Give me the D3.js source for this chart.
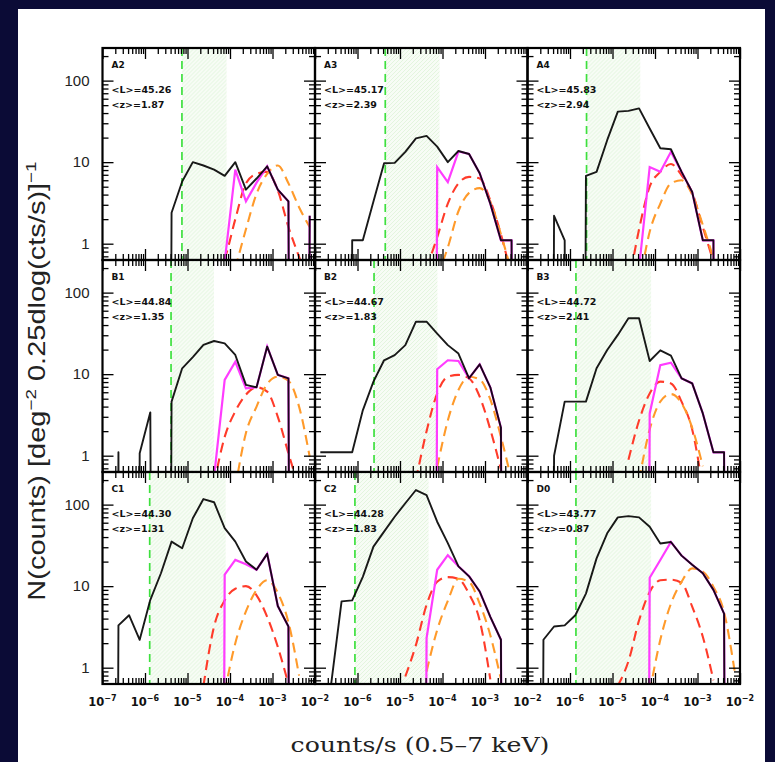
<!DOCTYPE html>
<html>
<head>
<meta charset="utf-8">
<script src="https://cdn.jsdelivr.net/npm/d3@7"></script>
<style>
  body { margin: 0; background: #0b0b36; }
  svg { display: block; }
</style>
</head>
<body>
<svg id="chart" width="775" height="762"></svg>
<script>
// panels, left to right then top to bottom
var panelNames = ["A2", "A3", "A4", "B1", "B2", "B3", "C1", "C2", "D0"];
var meanL = ["45.26", "45.17", "45.83", "44.84", "44.67", "44.72", "44.30", "44.28", "43.77"];
var meanZ = ["1.87", "2.39", "2.94", "1.35", "1.83", "2.41", "1.31", "1.83", "0.87"];

// green dashed flux limit and end of the shaded band (counts/s)
var fluxLimit = [7.4e-6, 4.5e-6, 2.45e-6, 4.1e-6, 2.45e-6, 1.38e-6, 1.29e-6, 8.7e-7, 1.38e-6];
var shadeEnd  = [8.3e-5, 8.5e-5, 4.5e-5, 4.2e-5, 7.6e-5, 8.1e-5, 7.9e-5, 4.7e-5, 8.1e-5];

// bin centres, log10(counts/s)
var binLogFlux = [-6.875, -6.625, -6.375, -6.125, -5.875, -5.625, -5.375, -5.125, -4.875, -4.625,
                  -4.375, -4.125, -3.875, -3.625, -3.375, -3.125, -2.875, -2.625, -2.375, -2.125];

// black histogram (0 = empty bin)
var blackCounts = [
  [0, 0, 0, 0, 0, 0, 2.4, 5.8, 10, 9.1, 8.1, 6.8, 10, 4.6, 6.3, 8.9, 4.6, 3.3, 0, 2.2],
  [0, 0, 0, 1.1, 1.1, 3.3, 9.7, 9.8, 13.4, 19.6, 21, 15.5, 10, 13.7, 12.6, 7.3, 3.1, 1.1, 1.1, 0],
  [0, 0, 2.2, 1.1, 0, 6.8, 7.6, 18.6, 41.6, 42.5, 45.7, 25.9, 14.8, 14.4, 7.6, 4.3, 1.1, 1.1, 0, 0],
  [0, 1.1, 0, 1.07, 3.4, 0, 4.6, 11.8, 16.2, 22.8, 25.5, 23.8, 17.2, 7.4, 6.9, 21.8, 9.8, 8.9, 0, 0],
  [1.1, 1.1, 1.1, 1.1, 3.6, 8.1, 14.8, 17.1, 22.7, 44, 44, 31.5, 22.7, 17.9, 8.9, 13.2, 6.9, 2.2, 0, 0],
  [0, 0, 1.0, 4.6, 4.6, 4.6, 11.8, 19.8, 30.3, 48.5, 48.5, 14.5, 19.6, 16.9, 8.9, 7.7, 3.3, 1.1, 1.1, 0],
  [0, 3.3, 4.4, 2.2, 6.8, 14.4, 35.2, 29.2, 68, 117, 107, 51.5, 35.2, 20.1, 15.9, 24.9, 5.7, 3.2, 0, 0],
  [0, 0.6, 6.5, 6.7, 13, 30.5, 46.6, 71, 104, 151, 131, 61.7, 33.7, 17.5, 13.2, 8.6, 4.2, 2.2, 0, 0],
  [0, 2.2, 3.2, 3.3, 4.4, 8.1, 21.9, 44.5, 69.7, 72.3, 69.7, 53.4, 33.4, 34.8, 23.7, 18.3, 14.4, 9.0, 4.6, 0]
];

// magenta histogram (null = not drawn)
var magentaCounts = [
  [null, null, null, null, null, null, null, null, null, null, null, 0.6, 8.1, 3.3, 5.6, 8.9, 4.6, 3.3, 0, 2.2],
  [null, null, null, null, null, null, null, null, null, null, 0, 8.7, 5.7, 13.5, 12.6, 7.3, 3.1, 1.1, 1.1, 0],
  [null, null, null, null, null, null, null, null, null, null, 0.5, 8.7, 7.6, 13.4, 7.6, 4.3, 1.1, 1.1, 0, null],
  [null, null, null, null, null, null, null, null, null, null, 0.55, 8.5, 14.2, 6.7, 6.9, 21.8, 9.8, 8.9, 0, null],
  [null, null, null, null, null, null, null, null, null, null, 0, 11.5, 14.8, 14.5, 8.9, 13.2, 6.9, 2.2, 0, null],
  [null, null, null, null, null, null, null, null, null, null, 0, 3.3, 12.9, 13.8, 8.9, 7.7, 3.3, 1.1, 1.1, 0],
  [null, null, null, null, null, null, null, null, null, null, 0, 13.9, 21, 18.6, 15.9, 24.9, 5.7, 3.2, 0, null],
  [null, null, null, null, null, null, null, null, null, 0, 2.3, 15.9, 24, 17.5, 13.2, 8.6, 4.2, 2.2, 0, null],
  [null, null, null, null, null, null, null, null, null, null, 0, 12.7, 20.9, 34.8, 23.7, 18.3, 14.4, 9.0, 4.6, 0]
];

// red dashed model
var redModel = [
  [null, null, null, null, null, null, null, null, null, null, 0.45, 0.66, 2.0, 5.5, 7.2, 7.6, 4.5, 1.6, 0.69, 0.3],
  [null, null, null, null, null, null, null, null, null, null, 0.5, 1.2, 3.1, 5.5, 6.6, 6.3, 3.4, 1.3, 0.4, null],
  [null, null, null, null, null, null, null, null, null, 0.3, 1.5, 5.0, 7.6, 9.5, 6.9, 4.2, 1.6, 0.6, null, null],
  [null, null, null, null, null, null, null, null, null, null, 0.45, 1.7, 3.5, 5.6, 6.9, 6.1, 3.0, 1.07, 0.4, null],
  [null, null, null, null, null, null, null, null, null, 0.5, 2.0, 5.8, 9.3, 9.8, 8.9, 5.3, 2.1, 0.68, null, null],
  [null, null, null, null, null, null, null, null, null, 0.89, 2.7, 5.8, 8.1, 7.7, 4.6, 2.1, 0.4, null, null, null],
  [null, null, null, null, null, null, null, null, null, 0.6, 3.2, 6.7, 9.3, 10, 7.7, 4.2, 1.8, 0.63, null, null],
  [null, null, null, null, null, null, null, null, 0.78, 1.9, 5.9, 11.3, 12.9, 12.3, 8.0, 3.8, 0.72, null, null, null],
  [null, null, null, null, null, null, null, null, 0.6, 1.2, 3.8, 8.5, 11.8, 12.0, 11.0, 5.6, 2.4, 0.7, null, null]
];

// orange dashed model
var orangeModel = [
  [null, null, null, null, null, null, null, null, null, null, null, null, 0.5, 1.5, 4.1, 7.2, 9.1, 5.5, 2.8, 1.6],
  [null, null, null, null, null, null, null, null, null, null, null, 0.4, 0.9, 2.5, 4.2, 4.8, 3.3, 1.3, 0.45, null],
  [null, null, null, null, null, null, null, null, null, null, 0.3, 1.4, 3.1, 5.5, 6.0, 4.0, 1.7, 0.66, null, null],
  [null, null, null, null, null, null, null, null, null, null, null, null, 0.4, 1.9, 4.0, 7.6, 9.3, 8.3, 4.0, 0.97],
  [null, null, null, null, null, null, null, null, null, null, null, 0.72, 2.7, 6.4, 9.3, 8.6, 4.9, 1.7, 0.5, null],
  [null, null, null, null, null, null, null, null, null, null, 0.5, 2.1, 4.6, 5.7, 4.4, 2.2, 0.74, null, null, null],
  [null, null, null, null, null, null, null, null, null, null, null, 0.5, 2.0, 4.9, 9.0, 11.8, 8.3, 3.6, 0.8, null],
  [null, null, null, null, null, null, null, null, null, null, 0.9, 2.9, 6.6, 12.3, 11.3, 6.1, 2.5, 0.72, null, null],
  [null, null, null, null, null, null, null, null, null, null, null, 0.5, 2.2, 6.1, 11.3, 16.5, 15.1, 9.8, 4.8, 0.9]
];

var xTickExp = [-7, -6, -5, -4, -3, -2];
var yTickValues = [1, 10, 100];

// layout
var gridLeft = 102.5, gridTop = 48, panelW = 212.5, panelH = 212;

var svg = d3.select("#chart");

svg.append("rect")
    .attr("x", 18).attr("y", 9)
    .attr("width", 747).attr("height", 753)
    .attr("fill", "#fff");

var defs = svg.append("defs");
var hatch = defs.append("pattern")
    .attr("id", "hatch")
    .attr("patternUnits", "userSpaceOnUse")
    .attr("width", 4).attr("height", 4);
hatch.append("rect").attr("width", 4).attr("height", 4).attr("fill", "#f7fcf5");
hatch.append("path")
    .attr("d", "M0,4 L4,0 M-1,1 L1,-1 M3,5 L5,3")
    .attr("stroke", "#e3f5de")
    .attr("stroke-width", 1);

var x = d3.scaleLog().domain([1e-7, 1e-2]).range([0, panelW]);
var y = d3.scaleLog().domain([Math.pow(10, -0.2), Math.pow(10, 2.4)]).range([panelH, 0]);

// empty bins are pushed far below the axis so the histogram drops straight down
function yPos(v) {
    return v > 0 ? y(v) : y(1e-30);
}

var histLine = d3.line()
    .defined(function(d) { return d.v !== null; })
    .x(function(d) { return x(d.f); })
    .y(function(d) { return yPos(d.v); });

var modelLine = d3.line()
    .defined(function(d) { return d.v !== null; })
    .curve(d3.curveMonotoneX)
    .x(function(d) { return x(d.f); })
    .y(function(d) { return y(d.v); });

function toPoints(values) {
    return values.map(function(v, i) {
        return {f: Math.pow(10, binLogFlux[i]), v: v};
    });
}

var majorX = xTickExp.map(function(e) { return Math.pow(10, e); });
var minorX = x.ticks().filter(function(t) { return majorX.indexOf(t) < 0; });
var minorY = y.ticks().filter(function(t) { return yTickValues.indexOf(t) < 0; });

function drawAxis(g, axis, transform) {
    var a = g.append("g")
        .attr("transform", transform)
        .call(axis);
    a.select(".domain").remove();
    a.selectAll("line").attr("stroke", "#000").attr("stroke-width", 1.3);
}

panelNames.forEach(function(name, p) {
    var col = p % 3, row = Math.floor(p / 3);
    var g = svg.append("g")
        .attr("transform", "translate(" + (gridLeft + col * panelW) + "," + (gridTop + row * panelH) + ")");

    defs.append("clipPath").attr("id", "clip" + p)
        .append("rect").attr("width", panelW).attr("height", panelH);

    var inner = g.append("g").attr("clip-path", "url(#clip" + p + ")");

    // shaded band
    inner.append("rect")
        .attr("x", x(fluxLimit[p]))
        .attr("y", 0)
        .attr("width", x(shadeEnd[p]) - x(fluxLimit[p]))
        .attr("height", panelH)
        .attr("fill", "url(#hatch)");

    // flux limit
    inner.append("line")
        .attr("x1", x(fluxLimit[p])).attr("x2", x(fluxLimit[p]))
        .attr("y1", 0).attr("y2", panelH)
        .attr("stroke", "#3ee03e")
        .attr("stroke-width", 1.7)
        .attr("stroke-dasharray", "8,5");

    inner.append("path")
        .attr("d", modelLine(toPoints(redModel[p])))
        .attr("fill", "none")
        .attr("stroke", "#ff3b2a")
        .attr("stroke-width", 2.1)
        .attr("stroke-dasharray", "10,6");

    inner.append("path")
        .attr("d", modelLine(toPoints(orangeModel[p])))
        .attr("fill", "none")
        .attr("stroke", "#ff9a2a")
        .attr("stroke-width", 2.1)
        .attr("stroke-dasharray", "10,6");

    inner.append("path")
        .attr("d", histLine(toPoints(magentaCounts[p])))
        .attr("fill", "none")
        .attr("stroke", "#ff3cff")
        .attr("stroke-width", 2.2);

    inner.append("path")
        .attr("d", histLine(toPoints(blackCounts[p])))
        .attr("fill", "none")
        .attr("stroke", "#000")
        .attr("stroke-opacity", 0.9)
        .attr("stroke-width", 1.9)
        .attr("stroke-linejoin", "round");

    // inward ticks on all four sides
    drawAxis(g, d3.axisBottom(x).tickValues(majorX).tickSize(-11).tickFormat(""), "translate(0," + panelH + ")");
    drawAxis(g, d3.axisBottom(x).tickValues(minorX).tickSize(-6).tickFormat(""), "translate(0," + panelH + ")");
    drawAxis(g, d3.axisTop(x).tickValues(majorX).tickSize(-11).tickFormat(""), "translate(0,0)");
    drawAxis(g, d3.axisTop(x).tickValues(minorX).tickSize(-6).tickFormat(""), "translate(0,0)");
    drawAxis(g, d3.axisLeft(y).tickValues(yTickValues).tickSize(-11).tickFormat(""), "translate(0,0)");
    drawAxis(g, d3.axisLeft(y).tickValues(minorY).tickSize(-6).tickFormat(""), "translate(0,0)");
    drawAxis(g, d3.axisRight(y).tickValues(yTickValues).tickSize(-11).tickFormat(""), "translate(" + panelW + ",0)");
    drawAxis(g, d3.axisRight(y).tickValues(minorY).tickSize(-6).tickFormat(""), "translate(" + panelW + ",0)");

    g.append("rect")
        .attr("width", panelW).attr("height", panelH)
        .attr("fill", "none")
        .attr("stroke", "#000")
        .attr("stroke-width", 2.2);

    // panel annotations
    var label = g.append("g")
        .attr("font-family", "'DejaVu Sans', sans-serif")
        .attr("font-weight", "bold")
        .attr("fill", "#111");
    label.append("text").attr("x", 9).attr("y", 20).attr("font-size", 9).text(name);
    label.append("text").attr("x", 9).attr("y", 45).attr("font-size", 9.5).text("<L>=" + meanL[p]);
    label.append("text").attr("x", 9).attr("y", 60).attr("font-size", 9.5).text("<z>=" + meanZ[p]);

    // y tick labels on the left column
    if (col === 0) {
        g.selectAll(".ylab")
            .data(yTickValues)
            .enter().append("text")
            .attr("x", -13)
            .attr("y", function(d) { return y(d) + 5; })
            .attr("text-anchor", "end")
            .attr("font-family", "'Liberation Sans', Arial, sans-serif")
            .attr("font-size", 15)
            .attr("fill", "#222")
            .text(function(d) { return d; });
    }

    // x tick labels on the bottom row
    if (row === 2) {
        var exps = col === 0 ? xTickExp : xTickExp.slice(1);
        var xl = g.selectAll(".xlab")
            .data(exps)
            .enter().append("text")
            .attr("x", function(d) { return x(Math.pow(10, d)); })
            .attr("y", panelH + 22)
            .attr("text-anchor", "middle")
            .attr("font-family", "'DejaVu Sans', sans-serif")
            .attr("font-weight", "bold")
            .attr("font-size", 11.5)
            .attr("fill", "#111");
        xl.append("tspan").text("10");
        xl.append("tspan")
            .attr("dy", -5)
            .attr("font-size", 8)
            .text(function(d) { return "\u2212" + Math.abs(d); });
    }
});

// axis titles, stretched along the text like the reference lettering
svg.append("text")
    .attr("transform", "translate(420,752) scale(1.26,1)")
    .attr("text-anchor", "middle")
    .attr("font-family", "'DejaVu Serif', 'Liberation Serif', serif")
    .attr("font-size", 20)
    .attr("fill", "#222")
    .text("counts/s (0.5\u20137 keV)");

var yTitle = svg.append("text")
    .attr("transform", "translate(45,381) rotate(-90) scale(1.26,1)")
    .attr("text-anchor", "middle")
    .attr("font-family", "'Liberation Sans', Arial, sans-serif")
    .attr("font-size", 23)
    .attr("fill", "#222");
yTitle.append("tspan").text("N(counts)  [deg");
yTitle.append("tspan").attr("dy", -9).attr("font-size", 15).text("\u22122");
yTitle.append("tspan").attr("dy", 9).text(" 0.25dlog(cts/s)]");
yTitle.append("tspan").attr("dy", -9).attr("font-size", 15).text("\u22121");
</script>
</body>
</html>
